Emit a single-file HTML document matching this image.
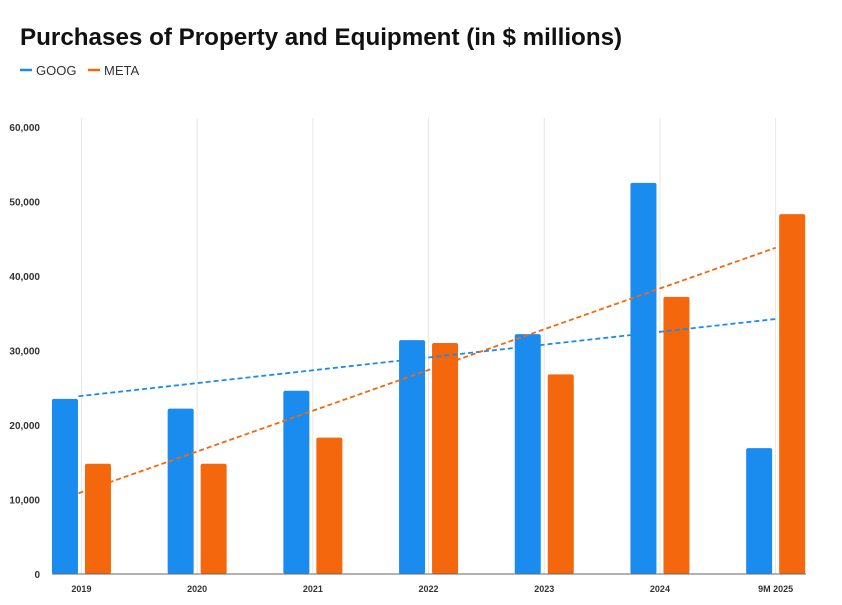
<!DOCTYPE html>
<html><head><meta charset="utf-8"><style>
body{margin:0;background:#fff;font-family:"Liberation Sans",sans-serif;}
</style></head><body>
<svg id="chart" width="842" height="600" xmlns="http://www.w3.org/2000/svg">
<text x="20" y="45" font-size="24.2" font-weight="bold" fill="#111">Purchases of Property and Equipment (in $ millions)</text>
<g>
<line x1="20" y1="70" x2="32" y2="70" stroke="#1a8cf0" stroke-width="2.5"/>
<text x="36" y="75" font-size="13" fill="#333">GOOG</text>
<line x1="88" y1="70" x2="100" y2="70" stroke="#f4670d" stroke-width="2.5"/>
<text x="104" y="75" font-size="13" fill="#333">META</text>
</g>
<g id="plot"></g>
</svg>
<script>
const categories=["2019","2020","2021","2022","2023","2024","9M 2025"];
const googValues=[23500,22200,24600,31400,32200,52500,16900];
const metaValues=[14800,14800,18300,31000,26800,37200,48300];
const yTicks=[0,10000,20000,30000,40000,50000,60000];
const yTickLabels=["0","10,000","20,000","30,000","40,000","50,000","60,000"];
const NS="http://www.w3.org/2000/svg";
const plot=document.getElementById('plot');
const y0=574,yTop=127,yMax=60000;
const yS=v=>y0-(v/yMax)*(y0-yTop);
const bandLeft=23.6,bandW=115.7;
const xC=i=>bandLeft+bandW*(i+0.5);
function mk(t,a){const e=document.createElementNS(NS,t);for(const k in a)e.setAttribute(k,a[k]);plot.appendChild(e);return e;}
categories.forEach((c,i)=>{
  const g=mk('line',{x1:xC(i),x2:xC(i),y1:118,y2:y0,stroke:'#e6e6e6','stroke-width':1});
  
  
});
yTicks.forEach((v,i)=>{
  const t=mk('text',{x:40,y:yS(v)+4,'font-size':10,'font-weight':'bold','text-anchor':'end',fill:'#333'});
  t.textContent=yTickLabels[i];
  
  
});
categories.forEach((c,i)=>{
  const b1=mk('rect',{x:xC(i)-29.5,y:yS(googValues[i]),width:26,height:y0-yS(googValues[i]),fill:'#1a8cf0',rx:2});
  
  
  const b2=mk('rect',{x:xC(i)+3.5,y:yS(metaValues[i]),width:26,height:y0-yS(metaValues[i]),fill:'#f4670d',rx:2});
  
  
  const t=mk('text',{x:xC(i),y:592,'font-size':9,'font-weight':'bold','text-anchor':'middle',fill:'#333'});
  t.textContent=c;
  
  
});
const ax=mk('line',{x1:52,x2:806,y1:y0,y2:y0,stroke:'#666','stroke-width':1});


function trend(vals){const n=vals.length,mx=(n-1)/2,my=vals.reduce((a,b)=>a+b)/n;let num=0,den=0;vals.forEach((v,i)=>{num+=(i-mx)*(v-my);den+=(i-mx)*(i-mx);});const s=num/den;return [my-s*mx,my+s*(n-1-mx)];}
[[googValues,'#1a8cf0','trendline-goog'],[metaValues,'#f4670d','trendline-meta']].forEach(([v,col,nm])=>{
  const [a,b]=trend(v);
  const l=mk('line',{x1:xC(0)-3,y1:yS(a),x2:xC(v.length-1),y2:yS(b),stroke:col,'stroke-width':1.8,'stroke-dasharray':'5,3'});
  
  
});
</script>
</body></html>
